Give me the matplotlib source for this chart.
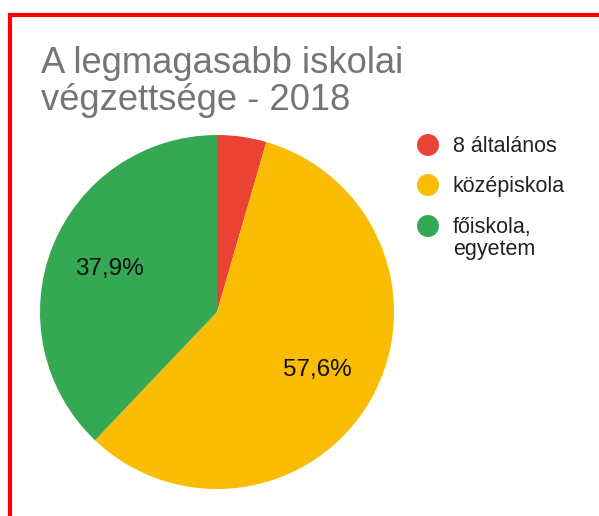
import matplotlib
matplotlib.use('Agg')
import matplotlib.pyplot as plt
from matplotlib.patches import Circle

plt.rcParams['font.family'] = ['Liberation Sans', 'DejaVu Sans']

# adatok
kategoriak = ['8 általános', 'középiskola', 'főiskola,\negyetem']
ertekek = [4.5, 57.6, 37.9]
szinek = ['#EA4335', '#FBBC04', '#34A853']
cim_sorok = ['A legmagasabb iskolai', 'végzettsége - 2018']

W, H = 599, 516
fig = plt.figure(figsize=(W / 100, H / 100), dpi=100)

# overlay axes in pixel coordinates
ov = fig.add_axes([0, 0, 1, 1])
ov.set_xlim(0, W)
ov.set_ylim(H, 0)
ov.axis('off')

# red frame (left and top)
ov.plot([9.5, 9.5], [15, H], color='#FF0000', lw=3, solid_capstyle='butt')
ov.plot([8, W], [15, 15], color='#FF0000', lw=3, solid_capstyle='butt')

# title
ov.text(41, 73, cim_sorok[0], fontsize=26.2, color='#757575', va='baseline', ha='left')
ov.text(41, 110, cim_sorok[1], fontsize=26.2, color='#757575', va='baseline', ha='left')

# legend
leg_y = [145, 185, 226]
for i, (nev, szin) in enumerate(zip(kategoriak, szinek)):
    ov.add_patch(Circle((428, leg_y[i]), 11, color=szin, lw=0))
    for j, sor in enumerate(nev.split('\n')):
        ov.text(453, leg_y[i] + 7 + j * 22, sor, fontsize=15.5, color='#222222',
                va='baseline', ha='left')

# pie
ax = fig.add_axes([40 / W, (H - 489) / H, 354 / W, 354 / H])
wedges, texts, autotexts = ax.pie(
    ertekek, colors=szinek, startangle=90, counterclock=False,
    autopct=lambda p: ('%.1f%%' % p).replace('.', ',') if p > 5 else '',
    pctdistance=0.655, wedgeprops=dict(linewidth=0),
    textprops=dict(fontsize=17.5, color='#111111'))
ax.set_xlim(-1, 1)
ax.set_ylim(-1, 1)
ax.set_aspect('equal')
ax.axis('off')

fig.savefig('out.png', dpi=100)
